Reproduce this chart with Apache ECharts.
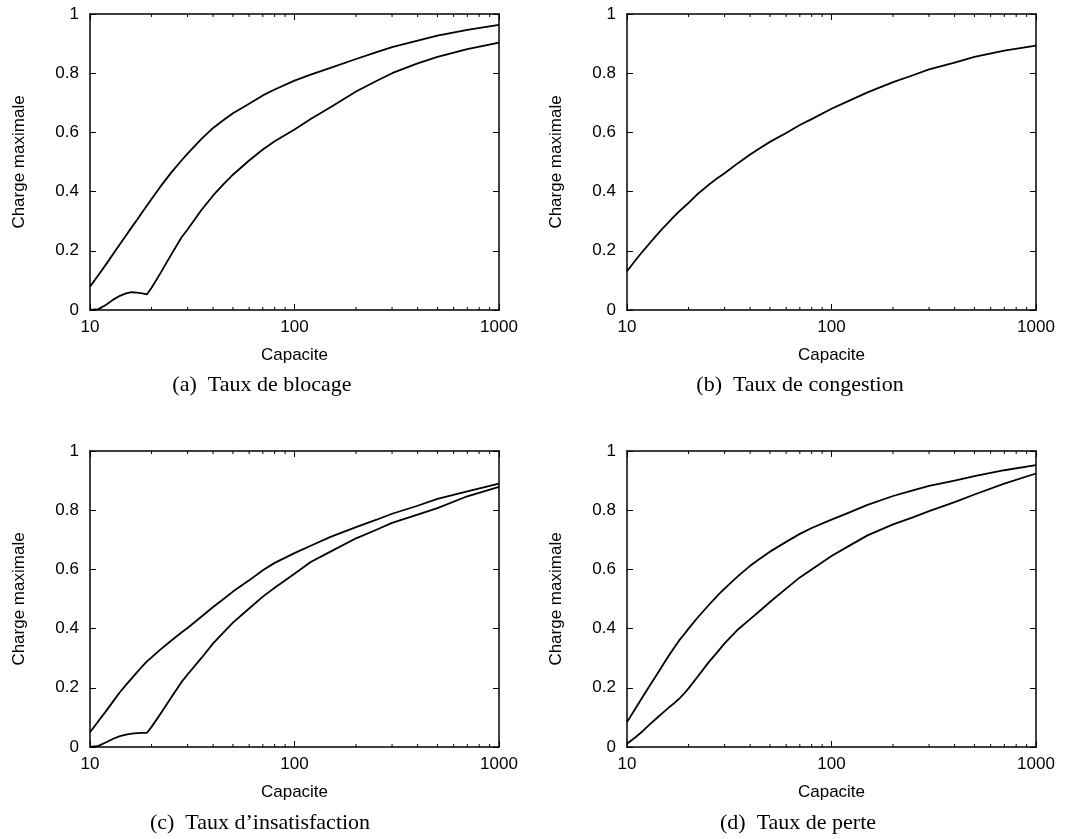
<!DOCTYPE html>
<html>
<head>
<meta charset="utf-8">
<title>Charge maximale</title>
<script src="https://cdn.jsdelivr.net/npm/echarts@6/dist/echarts.min.js"></script>
<style>
html, body { margin: 0; padding: 0; background: #fff; }
#chart { width: 1065px; height: 839px; }
</style>
</head>
<body>
<div id="chart"></div>
<script>
// capacite (axe x, log)
var capacite = [10, 11, 12, 13, 14, 15, 16, 17, 18, 19, 20, 22, 25, 28, 30, 35, 40, 45, 50, 60, 70, 80, 100, 120, 150, 200, 250, 300, 400, 500, 700, 1000]

// (a) Taux de blocage
var blocageHaut = [0.079, 0.118, 0.155, 0.19, 0.222, 0.252, 0.28, 0.305, 0.33, 0.353, 0.375, 0.415, 0.465, 0.505, 0.528, 0.577, 0.615, 0.642, 0.665, 0.697, 0.725, 0.745, 0.775, 0.795, 0.818, 0.848, 0.87, 0.888, 0.91, 0.927, 0.946, 0.963]
var blocageBas = [0, 0.003, 0.018, 0.035, 0.048, 0.056, 0.06, 0.059, 0.056, 0.053, 0.075, 0.122, 0.188, 0.245, 0.272, 0.337, 0.387, 0.425, 0.457, 0.505, 0.542, 0.57, 0.61, 0.645, 0.685, 0.738, 0.773, 0.8, 0.833, 0.855, 0.881, 0.903]
// (b) Taux de congestion
var congestion = [0.131, 0.168, 0.2, 0.228, 0.254, 0.277, 0.297, 0.316, 0.333, 0.348, 0.362, 0.39, 0.422, 0.448, 0.462, 0.497, 0.525, 0.548, 0.568, 0.598, 0.625, 0.645, 0.68, 0.705, 0.735, 0.77, 0.793, 0.813, 0.836, 0.855, 0.876, 0.893]
// (c) Taux d'insatisfaction
var insatHaut = [0.05, 0.088, 0.122, 0.155, 0.185, 0.21, 0.232, 0.253, 0.272, 0.289, 0.303, 0.328, 0.36, 0.387, 0.402, 0.44, 0.473, 0.5, 0.525, 0.563, 0.597, 0.622, 0.655, 0.68, 0.71, 0.743, 0.767, 0.788, 0.815, 0.838, 0.864, 0.89]
var insatBas = [0, 0.004, 0.016, 0.028, 0.037, 0.042, 0.045, 0.047, 0.048, 0.048, 0.068, 0.11, 0.168, 0.219, 0.245, 0.3, 0.35, 0.387, 0.42, 0.468, 0.508, 0.538, 0.585, 0.625, 0.66, 0.705, 0.733, 0.757, 0.785, 0.807, 0.847, 0.879]
// (d) Taux de perte
var perteHaut = [0.084, 0.13, 0.172, 0.21, 0.245, 0.278, 0.308, 0.335, 0.36, 0.38, 0.4, 0.435, 0.478, 0.515, 0.535, 0.578, 0.612, 0.638, 0.66, 0.693, 0.72, 0.74, 0.768, 0.79, 0.818, 0.848, 0.867, 0.882, 0.9, 0.915, 0.935, 0.952]
var perteBas = [0.011, 0.033, 0.055, 0.078, 0.098, 0.116, 0.133, 0.148, 0.163, 0.18, 0.198, 0.235, 0.285, 0.325, 0.35, 0.398, 0.432, 0.462, 0.49, 0.535, 0.573, 0.6, 0.645, 0.677, 0.715, 0.752, 0.776, 0.797, 0.827, 0.853, 0.89, 0.924]

// graduations secondaires de l'axe x
var minorTicks = [20, 30, 40, 50, 60, 70, 80, 90, 200, 300, 400, 500, 600, 700, 800, 900]

var captions = ['(a)  Taux de blocage', '(b)  Taux de congestion', '(c)  Taux d\u2019insatisfaction', '(d)  Taux de perte']
var panels = [[blocageHaut, blocageBas], [congestion], [insatHaut, insatBas], [perteHaut, perteBas]]

var SANS = '"Liberation Sans", Arial, sans-serif'
var SERIF = '"Liberation Serif", "DejaVu Serif", serif'

var grids = [
  { left: 90, top: 14, width: 409, height: 296 },
  { left: 627, top: 14, width: 409, height: 296 },
  { left: 90, top: 451, width: 409, height: 296 },
  { left: 627, top: 451, width: 409, height: 296 }
]
var captionPos = [[262, 385], [800, 385], [260, 823], [798, 823]]

var axisLine = { show: true, onZero: false, lineStyle: { color: '#000', width: 1.5 } }
var tick = { show: true, inside: true, length: 6, lineStyle: { color: '#000', width: 1 } }

var xAxes = []
var yAxes = []
var series = []

grids.forEach(function (g, i) {
  xAxes.push({
    type: 'log', logBase: 10, min: 10, max: 1000, gridIndex: i, position: 'bottom',
    name: 'Capacite', nameLocation: 'middle', nameGap: 37,
    nameTextStyle: { color: '#000', fontSize: 17, fontFamily: SANS },
    axisLine: axisLine, axisTick: tick, splitLine: { show: false },
    axisLabel: {
      color: '#000', fontSize: 17, fontFamily: SANS, margin: 9,
      formatter: function (v) { return String(Math.round(v)) }
    }
  })
  xAxes.push({
    type: 'log', logBase: 10, min: 10, max: 1000, gridIndex: i, position: 'top',
    axisLine: axisLine, axisTick: tick, splitLine: { show: false }, axisLabel: { show: false }
  })
  yAxes.push({
    type: 'value', min: 0, max: 1, interval: 0.2, gridIndex: i, position: 'left',
    name: 'Charge maximale', nameLocation: 'middle', nameGap: 62,
    nameTextStyle: { color: '#000', fontSize: 17, fontFamily: SANS },
    axisLine: axisLine, axisTick: tick, splitLine: { show: false },
    axisLabel: {
      color: '#000', fontSize: 17, fontFamily: SANS, margin: 11,
      formatter: function (v) { return String(+v.toFixed(1)) }
    }
  })
  yAxes.push({
    type: 'value', min: 0, max: 1, interval: 0.2, gridIndex: i, position: 'right',
    axisLine: axisLine, axisTick: tick, splitLine: { show: false }, axisLabel: { show: false }
  })

  panels[i].forEach(function (vals) {
    series.push({
      type: 'line', xAxisIndex: 2 * i, yAxisIndex: 2 * i,
      showSymbol: false, symbol: 'none', smooth: false,
      lineStyle: { color: '#000', width: 1.8, join: 'round' },
      data: capacite.map(function (c, k) { return [c, vals[k]] })
    })
  })

  series.push({
    type: 'custom', xAxisIndex: 2 * i, yAxisIndex: 2 * i, silent: true,
    data: minorTicks.map(function (v) { return [v, 0] }),
    renderItem: function (params, api) {
      var b = api.coord([api.value(0), 0])
      var t = api.coord([api.value(0), 1])
      var st = { stroke: '#000', lineWidth: 1 }
      return {
        type: 'group',
        children: [
          { type: 'line', shape: { x1: b[0], y1: b[1], x2: b[0], y2: b[1] - 3 }, style: st },
          { type: 'line', shape: { x1: t[0], y1: t[1], x2: t[0], y2: t[1] + 3 }, style: st }
        ]
      }
    }
  })
})

var chart = echarts.init(document.getElementById('chart'))
chart.setOption({
  animation: false,
  backgroundColor: '#fff',
  grid: grids,
  xAxis: xAxes,
  yAxis: yAxes,
  series: series,
  graphic: captions.map(function (t, i) {
    return {
      type: 'text', x: captionPos[i][0], y: captionPos[i][1], silent: true,
      style: { text: t, fill: '#000', font: '22px ' + SERIF, align: 'center', verticalAlign: 'middle' }
    }
  })
})
</script>
</body>
</html>
